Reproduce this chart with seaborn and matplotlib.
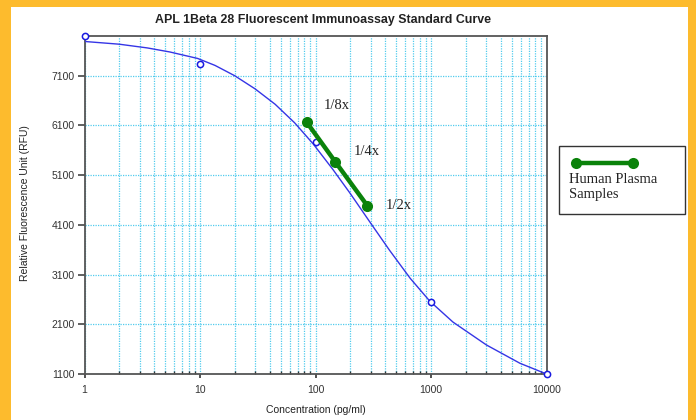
import matplotlib
matplotlib.use("Agg")
import matplotlib.pyplot as plt
import seaborn as sns
import numpy as np
import pandas as pd
from matplotlib.patches import Rectangle
from matplotlib.lines import Line2D
from matplotlib.ticker import LogLocator, FixedLocator, NullFormatter

# ---- data ----
curve_x = [1, 2, 3.5, 5.5, 9.55, 13.5, 20, 30, 44.7, 66, 95.5, 141, 200, 295, 437, 661, 977, 1549, 3020, 5890, 10000]
curve_y = [7790, 7735, 7660, 7578, 7448, 7308, 7100, 6836, 6527, 6153, 5729, 5219, 4731, 4161, 3591, 3024, 2565, 2145, 1684, 1316, 1100]

std_x = [1, 10, 100, 1000, 10000]
std_y = [7890, 7345, 5760, 2550, 1100]

sample_x = [84, 148, 281]
sample_y = [6164, 5372, 4486]
sample_labels = ["1/8x", "1/4x", "1/2x"]

y_ticks = [1100, 2100, 3100, 4100, 5100, 6100, 7100]
x_ticks = [1, 10, 100, 1000, 10000]
x_tick_labels = ["1", "10", "100", "1000", "10000"]

title = "APL 1Beta 28 Fluorescent Immunoassay Standard Curve"
x_label = "Concentration (pg/ml)"
y_label = "Relative Fluorescence Unit (RFU)"
legend_label = "Human Plasma\nSamples"

# ---- figure ----
sns.set_theme(style="white")
plt.rcParams["font.family"] = ["Liberation Sans", "DejaVu Sans"]

W, H = 696, 420
fig = plt.figure(figsize=(W / 100, H / 100), dpi=100)
fig.patch.set_facecolor("white")
ax = fig.add_axes([84.5 / W, 1 - 374 / H, (546.5 - 84.5) / W, (374 - 36) / H])
ax.set_facecolor("white")

curve_df = pd.DataFrame({"x": curve_x, "y": curve_y})
std_df = pd.DataFrame({"x": std_x, "y": std_y})
samp_df = pd.DataFrame({"x": sample_x, "y": sample_y})

ax.set_xscale("log")
ax.set_xlim(1, 10000)
ax.set_ylim(1100, 7900)

grid_col = "#3fc6ec"
ax.xaxis.set_major_locator(FixedLocator(x_ticks))
ax.xaxis.set_minor_locator(LogLocator(base=10, subs=np.arange(2, 10)))
ax.xaxis.set_minor_formatter(NullFormatter())
ax.set_xticks(x_ticks)
ax.set_xticklabels(x_tick_labels)
ax.set_yticks(y_ticks)
ax.grid(True, which="both", axis="x", color=grid_col, linestyle=(0, (1, 1)), linewidth=0.9, alpha=0.9)
ax.grid(True, which="major", axis="y", color=grid_col, linestyle=(0, (1, 1)), linewidth=0.9, alpha=0.9)
ax.set_axisbelow(True)

sns.lineplot(data=curve_df, x="x", y="y", ax=ax, color="#3535e6", linewidth=1.0, zorder=3)
sns.scatterplot(data=std_df, x="x", y="y", ax=ax, marker="o", s=20, facecolor="white",
                edgecolor="#1a1ae0", linewidth=1.1, zorder=4, clip_on=False)
sns.lineplot(data=samp_df, x="x", y="y", ax=ax, color="#0a820a", linewidth=3.2,
             marker="o", markersize=8, markeredgewidth=0, zorder=5)

offsets = [(12, 12), (13, 7), (13, 0)]
for xv, yv, lab, off in zip(sample_x, sample_y, sample_labels, offsets):
    ax.annotate(lab, (xv, yv), xytext=off, textcoords="offset points",
                ha="left", va="center", fontsize=10.5, family=["Liberation Serif"], color="#222222")

for sp in ax.spines.values():
    sp.set_color("#555555")
    sp.set_linewidth(1.3)

ax.tick_params(axis="y", which="major", direction="out", length=5, width=1.2, color="#444444",
               labelsize=7.5, labelcolor="#333333", pad=2, left=True)
ax.tick_params(axis="x", which="major", direction="out", length=3, width=1.2, color="#333333",
               labelsize=7.5, labelcolor="#333333", pad=5, bottom=True)
ax.tick_params(axis="x", which="minor", direction="in", length=2, width=1.0, color="#333333", bottom=True)

ax.set_xlabel("")
ax.set_ylabel("")
fig.text(315.5 / W, 1 - 410 / H, x_label, ha="center", va="center", fontsize=7.5, color="#222222")
fig.text(25 / W, 1 - 203 / H, y_label, ha="center", va="center", rotation=90, fontsize=7.5, color="#222222")
fig.text(323 / W, 1 - 20 / H, title, ha="center", va="center", fontsize=8.9, fontweight="bold", color="#222222")

# legend drawn as a box outside the axes
fig.add_artist(Rectangle((559 / W, 1 - 214 / H), (685 - 559) / W, (214 - 146) / H,
                         transform=fig.transFigure, facecolor="white", edgecolor="#333333", linewidth=1.0))
fig.add_artist(Line2D([576 / W, 633 / W], [1 - 163 / H, 1 - 163 / H], transform=fig.transFigure,
                      color="#0a820a", linewidth=3.2, marker="o", markersize=8, markeredgewidth=0))
fig.text(569 / W, 1 - 187 / H, legend_label, ha="left", va="center", fontsize=10.5,
         family=["Liberation Serif"], color="#222222", linespacing=1.25)

# yellow frame
frame_col = "#fdbb2d"
for (x0, y0, w, h) in [(0, 0, 11, 420), (688, 0, 8, 420), (0, 0, 696, 7)]:
    fig.add_artist(Rectangle((x0 / W, 1 - (y0 + h) / H), w / W, h / H, transform=fig.transFigure,
                             facecolor=frame_col, edgecolor="none", zorder=10))

fig.savefig("out.png", dpi=100)
